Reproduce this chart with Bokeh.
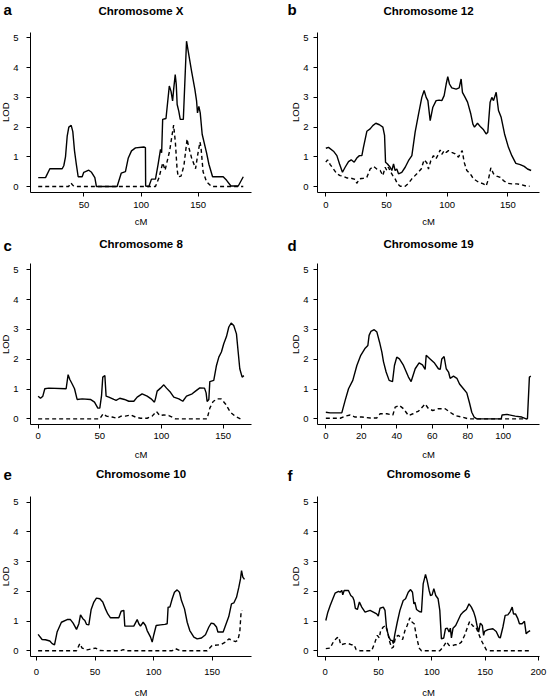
from math import pi
from bokeh.plotting import figure
from bokeh.layouts import column, row
from bokeh.models import Range1d, FixedTicker
from bokeh.core.properties import value
from bokeh.embed import file_html
from bokeh.resources import INLINE

FONT = "Liberation Sans"

# ---------------- data ----------------
titles = ["Chromosome X", "Chromosome 12", "Chromosome 8", "Chromosome 19", "Chromosome 10", "Chromosome 6"]
letters = ["a", "b", "c", "d", "e", "f"]
y_ticks = [0, 1, 2, 3, 4, 5]

a_ticks = [50, 100, 150]
a_cm = [9.9, 16.3, 20.1, 30.9, 32.3, 33.8, 35.3, 36.7, 38.8, 40.2, 41.7, 43.1, 44.9, 48.4, 49.8, 54.2, 56.6, 59.5,
        60.9, 79.0, 82.6, 86.3, 88.7, 91.6, 95.1, 102.4, 103.8, 104.0, 106.8, 109.1, 112.6, 114.9, 117.0, 118.0,
        118.9, 121.8, 124.7, 126.2, 127.6, 128.5, 129.9, 130.8, 131.6, 133.0, 134.3, 137.0, 139.8, 141.3, 144.2,
        147.1, 148.6, 149.4, 150.6, 151.8, 153.5, 157.3, 159.4, 162.6, 171.9, 174.9, 178.7, 185.1, 189.5]
a_lod = [0.30, 0.30, 0.60, 0.60, 0.70, 1.00, 1.70, 2.00, 2.06, 1.85, 1.20, 0.80, 0.33, 0.33, 0.48, 0.55, 0.48, 0.30,
         0.00, 0.00, 0.45, 0.50, 0.95, 1.20, 1.30, 1.33, 1.31, 0.02, 0.00, 0.25, 0.25, 0.75, 1.25, 1.14,
         2.26, 2.29, 3.38, 3.21, 2.88, 3.26, 3.77, 3.44, 2.76, 2.54, 2.26, 2.26, 4.89, 4.55, 3.88,
         3.27, 2.88, 2.48, 2.70, 2.48, 1.76, 1.14, 0.75, 0.33, 0.33, 0.21, 0.02, 0.02, 0.33]
a_cm_d = [9.9, 36.5, 38.5, 40.5, 43.0, 112.6, 115.7, 119.0, 121.0, 125.0, 128.5, 130.0, 131.5, 132.5, 135.0, 137.5,
          140.3, 141.5, 144.2, 147.7, 150.1, 151.6, 152.5, 154.3, 157.3, 161.7, 189.5]
a_lod_d = [0, 0, 0.12, 0.03, 0, 0, 0.30, 0.80, 0.55, 1.20, 2.07, 1.50, 0.60, 0.33, 0.35, 0.70,
           1.60, 1.36, 0.97, 0.60, 1.19, 1.50, 1.30, 0.50, 0.16, 0, 0]

b_ticks = [0, 50, 100, 150]
b_cm = [0, 2.2, 6.3, 9.1, 11.3, 13.7, 15.9, 18.7, 20.9, 23.4, 25.5, 27.7, 29.7, 31.0, 33.8, 36.5, 38.7, 41.2, 44.2,
        47.0, 48.4, 49.2, 50.8, 53.0, 54.4, 55.8, 57.1, 58.5, 59.9, 62.6, 65.4, 68.1, 70.9, 73.6, 76.4, 79.1, 81.0,
        82.7, 84.1, 86.0, 88.2, 90.9, 93.4, 95.6, 97.5, 99.2, 100.5, 101.9, 103.8, 107.4, 109.9, 111.5, 112.6,
        114.8, 116.8, 119.5, 121.2, 122.5, 125.0, 127.7, 130.0, 132.1, 133.5, 135.4, 136.8, 138.2, 140.4, 142.3,
        144.5, 147.3, 150.5, 153.3, 156.6, 160.2, 163.5, 166.2, 169.2]
b_lod = [1.29, 1.32, 1.19, 1.04, 0.76, 0.48, 0.65, 0.84, 0.90, 0.82, 0.96, 1.04, 1.04, 1.32, 1.86, 1.94, 2.05, 2.13,
         2.08, 2.00, 1.72, 0.82, 0.76, 0.65, 0.54, 0.76, 0.54, 0.59, 0.43, 0.48, 0.65, 0.87, 1.04, 1.83, 2.44, 3.00,
         3.23, 3.00, 2.89, 2.22, 2.67, 2.89, 2.91, 2.89, 3.06, 3.45, 3.70, 3.45, 3.32, 3.28, 3.32, 3.62, 3.17,
         3.00, 2.84, 2.44, 2.10, 2.00, 2.13, 2.00, 1.91, 1.77, 1.83, 2.84, 3.00, 2.89, 3.17, 2.56,
         2.33, 1.77, 1.32, 1.04, 0.78, 0.74, 0.68, 0.59, 0.54]
b_cm_d = [0, 1.4, 3.6, 6.3, 9.1, 11.8, 14.6, 17.3, 20.9, 24.2, 25.5, 27.7, 31.0, 33.8, 36.5, 39.3, 42.0, 44.8, 47.0,
          48.9, 50.3, 51.6, 53.0, 55.2, 57.1, 59.1, 61.3, 65.4, 68.1, 70.9, 75.0, 78.6, 81.0, 83.2, 84.6, 86.5, 88.7,
          90.7, 92.9, 94.2, 95.6, 97.5, 99.2, 101.1, 103.8, 106.6, 109.3, 110.7, 112.4, 114.0, 116.2, 119.0, 121.7,
          125.8, 129.9, 132.1, 134.1, 136.0, 138.2, 140.9, 143.7, 146.4, 149.7, 153.3, 157.4, 161.5, 165.7, 167.9]
b_lod_d = [0.82, 0.90, 0.74, 0.59, 0.43, 0.37, 0.34, 0.29, 0.28, 0.24, 0.11, 0.26, 0.28, 0.31, 0.59, 0.68, 0.59, 0.54,
           0.37, 0.65, 0.54, 0.65, 0.52, 0.37, 0.26, 0.09, 0.01, 0.01, 0.11, 0.26, 0.43, 0.59, 0.90, 0.80, 0.59, 0.87,
           1.04, 0.93, 1.10, 1.23, 1.08, 1.21, 1.15, 1.21, 1.15, 1.10, 0.99, 1.10, 1.21, 0.82, 0.54, 0.43, 0.26,
           0.15, 0.09, 0.02, 0.26, 0.63, 0.43, 0.35, 0.31, 0.20, 0.11, 0.09, 0.09, 0.06, 0.01, 0.01]

c_ticks = [0, 50, 100, 150]
c_cm = [0, 1.9, 3.8, 5.4, 8.6, 22.7, 24.3, 25.7, 27.6, 29.5, 31.6, 35.7, 42.4, 45.7, 48.4, 50.0, 51.4, 52.4, 54.1,
        55.1, 57.3, 61.4, 63.2, 66.2, 70.0, 73.5, 77.6, 80.3, 84.3, 88.4, 91.6, 94.3, 95.1, 96.5, 99.2, 101.9, 104.1,
        107.3, 110.0, 114.1, 117.3, 120.3, 124.9, 127.6, 131.1, 134.9, 136.2, 137.0, 138.4, 139.2, 142.4, 144.6,
        146.5, 148.6, 150.5, 152.7, 154.6, 156.5, 158.6, 160.8, 162.2, 163.5, 165.4, 166.8]
c_lod = [0.76, 0.69, 0.76, 1.01, 1.03, 1.01, 1.48, 1.32, 1.17, 1.01, 0.65, 0.67, 0.65, 0.56, 0.36, 0.36, 0.78, 1.40,
         1.45, 0.76, 0.73, 0.65, 0.62, 0.69, 0.65, 0.59, 0.59, 0.73, 0.84, 0.76, 0.67, 0.56, 0.67, 0.93, 1.03, 1.14,
         1.03, 0.89, 0.73, 0.67, 0.59, 0.76, 0.84, 0.93, 1.04, 1.03, 0.87, 0.58, 0.65, 1.25, 1.29, 1.79,
         2.07, 2.24, 2.52, 2.76, 3.08, 3.21, 3.13, 2.85, 2.24, 1.68, 1.40, 1.45]
c_cm_d = [0, 50.0, 52.7, 55.4, 60.0, 64.0, 67.3, 70.8, 74.9, 78.9, 83.0, 88.4, 92.4, 95.9, 98.6, 101.9, 105.9, 111.4,
          137.0, 139.2, 141.9, 145.1, 148.4, 151.9, 155.9, 160.0, 164.0]
c_lod_d = [0, 0, 0.17, 0.09, 0.06, 0.02, 0.09, 0.09, 0.13, 0.06, 0.02, 0.02, 0.09, 0.25, 0.11, 0.13, 0.11, 0,
           0, 0.36, 0.58, 0.67, 0.67, 0.50, 0.22, 0.08, 0]

d_ticks = [0, 20, 40, 60, 80, 100]
d_cm = [0, 2.4, 9.0, 10.9, 12.8, 15.2, 17.5, 19.7, 22.2, 23.7, 24.4, 25.4, 27.3, 28.8, 30.3, 31.6, 32.5, 34.0, 35.7,
        37.6, 38.7, 40.0, 41.5, 43.8, 46.6, 48.1, 50.4, 52.6, 54.5, 56.0, 56.6, 58.8, 61.3, 63.5, 64.5, 65.4, 66.7,
        67.9, 69.2, 70.1, 72.0, 73.9, 75.4, 77.6, 79.5, 81.0, 82.3, 83.6, 85.2, 98.9, 99.4, 102.1, 106.8, 110.5,
        113.0, 113.7, 114.8, 115.6]
d_lod = [0.22, 0.20, 0.20, 0.62, 1.01, 1.29, 1.79, 2.13, 2.37, 2.46, 2.80, 2.93, 2.99, 2.91, 2.57, 2.24, 1.92, 1.57,
         1.29, 1.25, 1.79, 2.07, 2.01, 1.79, 1.40, 1.25, 1.68, 1.88, 1.81, 1.66, 2.13, 2.01, 1.87, 1.68, 1.66, 2.01,
         2.09, 1.68, 1.57, 1.36, 1.43, 1.36, 1.17, 1.01, 0.87, 0.54, 0.22, 0.06, 0, 0, 0.13, 0.15, 0.09, 0.06,
         0, 0, 1.40, 1.43]
d_cm_d = [0, 4.3, 8.1, 10.9, 13.7, 16.5, 20.3, 25.0, 28.8, 30.6, 34.4, 37.8, 39.1, 41.5, 43.8, 46.6, 49.1, 52.3, 56.0,
          57.9, 60.3, 63.5, 67.3, 70.1, 72.9, 76.7, 80.5, 113.3]
d_lod_d = [0.02, 0.02, 0.02, 0.09, 0.13, 0.06, 0.06, 0.03, 0.03, 0.17, 0.17, 0.13, 0.39, 0.45, 0.34, 0.11, 0.17, 0.26,
           0.50, 0.34, 0.28, 0.34, 0.34, 0.22, 0.11, 0.06, 0, 0]

e_ticks = [0, 50, 100, 150]
e_cm = [1.4, 4.8, 7.7, 11.4, 13.4, 15.4, 17.6, 21.3, 26.2, 29.0, 31.3, 34.2, 36.2, 37.6, 39.6, 41.3, 42.7, 44.7, 46.7,
        49.0, 51.2, 54.1, 56.6, 58.9, 60.9, 63.2, 66.0, 70.3, 72.3, 74.6, 75.4, 78.9, 83.1, 86.0, 87.4, 88.8, 91.1,
        93.1, 94.5, 97.4, 98.8, 100.2, 102.2, 105.9, 109.6, 111.6, 112.4, 113.9, 115.9, 117.8, 120.1, 122.1, 123.8,
        126.4, 128.7, 130.9, 134.4, 137.2, 140.9, 144.3, 147.2, 149.2, 151.4, 153.7, 154.9, 157.1, 159.4, 161.4,
        164.2, 166.5, 168.5, 170.8, 172.8, 174.2, 175.1, 176.2, 177.6]
e_lod = [0.55, 0.38, 0.37, 0.33, 0.24, 0.20, 0.63, 0.96, 1.05, 1.05, 0.93, 0.72, 0.91, 1.21, 1.08, 1.02, 0.89, 0.87,
         1.39, 1.64, 1.77, 1.75, 1.64, 1.41, 1.24, 1.11, 1.11, 1.11, 1.33, 1.36, 0.83, 0.83, 0.83, 1.05, 0.91, 0.83,
         0.96, 0.85, 0.68, 0.46, 0.29, 0.54, 0.85, 0.87, 0.89, 0.91, 1.47, 1.47, 1.75, 1.97, 2.05, 1.97, 1.69,
         1.41, 0.96, 0.68, 0.46, 0.40, 0.43, 0.54, 0.80, 0.93, 0.91, 0.80, 0.63, 0.63, 0.63, 0.85,
         1.15, 1.58, 1.61, 1.80, 2.14, 2.42, 2.70, 2.48, 2.40]
e_cm_d = [1.4, 34.2, 37.0, 39.0, 43.3, 50.4, 54.1, 60.3, 71.7, 74.0, 77.4, 115.9, 118.7, 123.0, 145.7, 150.0, 157.1,
          161.4, 164.2, 167.1, 169.9, 171.9, 173.6, 174.7, 175.6]
e_lod_d = [0, 0, 0.24, 0.09, 0.03, 0.09, 0.01, 0, 0, 0.04, 0, 0, 0.07, 0, 0, 0.18, 0.20,
           0.29, 0.40, 0.35, 0.31, 0.35, 0.63, 1.30, 1.36]

f_ticks = [0, 50, 100, 150, 200]
f_cm = [0.6, 2.5, 4.7, 7.2, 9.3, 12.5, 14.0, 15.6, 16.5, 17.8, 21.8, 24.0, 25.9, 27.1, 28.3, 30.2, 32.1, 34.3, 37.4,
        42.1, 45.2, 48.3, 49.8, 51.4, 54.5, 56.1, 57.6, 59.8, 61.4, 62.9, 63.9, 65.4, 67.6, 70.1, 73.2, 75.4, 77.9,
        80.1, 81.9, 83.2, 84.1, 85.7, 88.2, 90.3, 91.9, 94.1, 95.6, 97.5, 98.8, 100.3, 101.9, 103.7, 105.9, 107.5,
        109.0, 111.2, 112.8, 114.6, 116.2, 117.4, 118.4, 119.9, 122.4, 124.6, 127.1, 129.3, 132.4, 134.9, 137.1,
        139.3, 140.8, 142.4, 143.9, 145.5, 147.4, 148.6, 149.5, 152.6, 157.3, 160.4, 162.9, 164.2, 166.7, 168.8,
        171.3, 173.5, 175.4, 176.6, 178.5, 180.7, 182.2, 184.7, 186.9, 188.5, 190.0, 192.2]
f_lod = [1.02, 1.30, 1.52, 1.75, 1.94, 2.00, 1.97, 2.03, 1.88, 2.03, 2.03, 1.86, 1.80, 1.69, 1.43, 1.39, 1.64, 1.47,
         1.30, 1.36, 1.30, 1.24, 1.17, 1.43, 1.47, 1.36, 0.74, 0.46, 0.35, 0.35, 0.24, 0.57, 0.96, 1.36, 1.69, 1.75,
         1.97, 2.06, 1.97, 1.58, 1.64, 1.39, 1.32, 1.30, 2.25, 2.57, 2.37, 2.03, 1.86, 1.88, 2.09, 1.86, 1.75, 1.36,
         0.40, 0.43, 0.74, 0.76, 0.63, 0.76, 0.43, 0.76, 0.85, 1.02, 1.21, 1.30, 1.39, 1.58, 1.47,
         1.30, 1.13, 0.85, 0.63, 0.93, 0.85, 0.52, 0.65, 0.71, 0.74, 0.65, 0.46, 0.43, 0.80, 1.19,
         1.21, 1.32, 1.47, 1.24, 1.24, 1.08, 0.91, 0.91, 0.99, 0.57, 0.63, 0.68]
f_cm_d = [0.6, 4.7, 7.8, 10.9, 12.8, 14.6, 18.7, 21.8, 24.9, 27.1, 29.0, 32.7, 43.6, 46.7, 48.9, 50.8, 52.0, 54.5,
          56.7, 58.3, 60.1, 62.3, 63.9, 66.0, 68.5, 70.7, 72.6, 74.8, 76.9, 79.4, 81.6, 83.5, 85.7, 88.2, 90.3,
          107.5, 110.6, 113.7, 116.2, 118.4, 121.5, 124.6, 127.7, 130.8, 134.0, 135.5, 138.6, 141.1, 143.3, 146.4,
          148.6, 151.1, 153.6, 192.2]
f_lod_d = [0.07, 0.09, 0.31, 0.43, 0.46, 0.20, 0.24, 0.24, 0.20, 0.20, 0.04, 0, 0, 0.29, 0.52, 0.43, 0.68, 0.80,
           0.85, 0.68, 0.35, 0.09, 0.12, 0.46, 0.52, 0.46, 0.38, 0.68, 0.85, 1.11, 0.96, 0.91, 0.46, 0.09, 0,
           0, 0.12, 0.31, 0.18, 0.16, 0.20, 0.20, 0.29, 0.52, 0.85, 0.99, 0.83, 0.82, 0.63, 0.35,
           0.20, 0.03, 0, 0]

# cM at the left / right edge of each panel's plotting box
x_extents = [(3.15, 196.7), (-6.87, 176.1), (-6.2, 173.0), (-4.7, 120.5), (-5.1, 183.6), (-7.2, 201.0)]
Y0, Y1 = -0.2, 5.2

# ---------------- layout (pixels) ----------------
# per row: fig height, box top, box height, x-label standoff, title centre y, letter centre y, cM centre y
ROWS = [
    (232, 31.5, 160.5, 5, 10.3, 8.8, 221.2),
    (231, 31.3, 161.0, 4, 11.8, 12.8, 221.7),
    (235, 32.8, 160.4, 8, 10.8, 11.8, 229.0),
]
# per column: fig width, box left, box width, LOD centre x, letter left x, y-label standoff
COLS = [
    (273, 30, 221, 4.5, 3, 8),
    (274, 44, 222, 21.7, 14, 5),
]


def panel(i, cm_s, lod_s, cm_d, lod_d, xticks):
    r, c = divmod(i, 2)
    h, T, FH, xstand, t_y, l_y, cm_y = ROWS[r]
    w, L, FW, lod_x, let_x, ystand = COLS[c]
    x0, x1 = x_extents[i]
    kx = FW / (x1 - x0)
    ky = FH / (Y1 - Y0)
    xs = x0 - L / kx
    xe = x1 + (w - L - FW) / kx
    ys = Y0 - (h - T - FH) / ky
    ye = Y1 + T / ky

    def X(px):
        return xs + px / kx

    def Y(py):
        return ye - py / ky

    p = figure(width=w, height=h, x_range=Range1d(xs, xe), y_range=Range1d(ys, ye),
               output_backend="svg", toolbar_location=None,
               min_border=0, min_border_left=0, min_border_right=0,
               min_border_top=0, min_border_bottom=0)
    p.outline_line_color = None
    p.xgrid.visible = False
    p.ygrid.visible = False
    p.background_fill_color = "white"
    p.border_fill_color = "white"

    p.line(cm_s, lod_s, line_color="black", line_width=1.4)
    p.line(cm_d, lod_d, line_color="black", line_width=1.4, line_dash="4 3")

    xa = p.xaxis[0]
    ya = p.yaxis[0]
    xa.fixed_location = Y0
    xa.bounds = (x0, x1)
    ya.fixed_location = x0
    ya.bounds = (Y0, Y1)
    for ax in (xa, ya):
        ax.minor_tick_line_color = None
        ax.major_tick_in = 0
        ax.major_tick_out = 4
        ax.axis_line_color = "black"
        ax.major_tick_line_color = "black"
        ax.axis_line_width = 1
        ax.major_label_text_font = FONT
        ax.major_label_text_font_size = "9.5px"
        ax.major_label_text_color = "black"
    xa.ticker = FixedTicker(ticks=xticks)
    ya.ticker = FixedTicker(ticks=y_ticks)
    xa.major_label_standoff = xstand
    ya.major_label_standoff = ystand

    cx = L + FW / 2
    # axis titles
    p.text(x=[X(cx)], y=[Y(cm_y)], text=["cM"], text_align="center", text_baseline="middle",
           text_font=value(FONT), text_font_size=value("9.5px"), text_color="black")
    p.text(x=[X(lod_x)], y=[(Y0 + Y1) / 2], text=["LOD"], angle=pi / 2,
           text_align="center", text_baseline="middle",
           text_font=value(FONT), text_font_size=value("9.5px"), text_color="black")
    # panel title and letter
    p.text(x=[X(cx)], y=[Y(t_y)], text=[titles[i]], text_align="center", text_baseline="middle",
           text_font=value(FONT), text_font_size=value("11.5px"), text_font_style=value("bold"),
           text_color="black")
    p.text(x=[X(let_x)], y=[Y(l_y)], text=[letters[i]], text_align="left", text_baseline="middle",
           text_font=value(FONT), text_font_size=value("15px"), text_font_style=value("bold"),
           text_color="black")
    return p


pa = panel(0, a_cm, a_lod, a_cm_d, a_lod_d, a_ticks)
pb = panel(1, b_cm, b_lod, b_cm_d, b_lod_d, b_ticks)
pc = panel(2, c_cm, c_lod, c_cm_d, c_lod_d, c_ticks)
pd = panel(3, d_cm, d_lod, d_cm_d, d_lod_d, d_ticks)
pe = panel(4, e_cm, e_lod, e_cm_d, e_lod_d, e_ticks)
pf = panel(5, f_cm, f_lod, f_cm_d, f_lod_d, f_ticks)

layout = column(row(pa, pb), row(pc, pd), row(pe, pf))
open("out.html", "w").write(file_html(layout, INLINE))
